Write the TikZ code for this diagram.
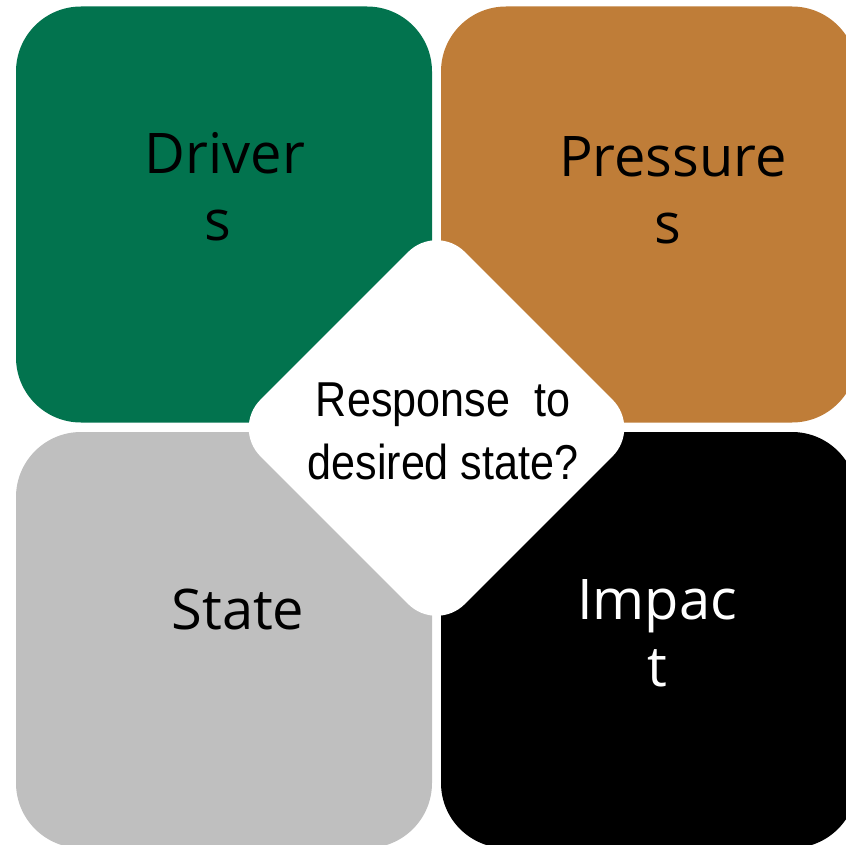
\documentclass[tikz,border=0pt]{standalone}
\usepackage{fontspec}
\setmainfont{Open Sans}
\newfontfamily\respfont[FakeStretch=0.88]{Liberation Sans}
\definecolor{dgreen}{HTML}{02734E}
\definecolor{dorange}{HTML}{BF7D38}
\definecolor{dgray}{HTML}{BFBFBF}
\begin{document}
\begin{tikzpicture}[x=1pt,y=-1pt,
  quad/.style={rectangle, rounded corners=65pt, minimum width=416pt, minimum height=416pt, inner sep=0pt, draw=none},
  lab/.style={font=\fontsize{56}{67}\selectfont, align=center, inner sep=0pt},
  centre/.style={rectangle, rotate=45, rounded corners=40pt, minimum size=289pt, inner sep=0pt, fill=white, draw=none}]
\useasboundingbox (0,0) rectangle (846,845);
\clip (0,0) rectangle (846,845);
\node[quad, fill=dgreen] (drivers) at (224,214.5) {};
\node[quad, fill=dorange] (pressures) at (649,214.5) {};
\node[quad, fill=dgray] (state) at (224,640) {};
\node[quad, fill=black] (impact) at (649,640) {};
\node[centre] (response) at (436.5,428) {};
\node[lab, text=black] (tdrivers) at (225,186.5) {Driver\\s\hspace*{15pt}};
\node[lab, text=black] (tpressures) at (673,190) {Pressure\\s\hspace*{10pt}};
\node[lab, text=black, anchor=base] (tstate) at (238,629) {State};
\node[lab, text=white] (timpact) at (657,633) {Impac\\t};
\node[font=\respfont\fontsize{49}{63}\selectfont, align=center, inner sep=0pt] (tresponse) at (443,431) {Response~~to\\desired state?};
\end{tikzpicture}
\end{document}
